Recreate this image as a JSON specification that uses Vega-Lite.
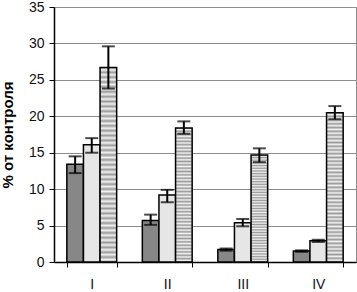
{
  "$schema": "https://vega.github.io/schema/vega-lite/v6.json",
  "width": 302,
  "height": 255,
  "autosize": "none",
  "padding": {"left": 54, "top": 7, "right": 1, "bottom": 30},
  "background": "white",
  "config": {
    "view": {"stroke": "#8c8c8c", "strokeWidth": 1},
    "font": "Liberation Sans",
    "axisY": {
      "title": "% от контроля", "titleFontSize": 15, "titleFontWeight": "bold", "titleColor": "#000",
      "titlePadding": 13, "labelFontSize": 14, "labelColor": "#111", "labelOverlap": false,
      "labelPadding": 5, "tickSize": 5, "tickColor": "#000", "domainColor": "#000", "domainWidth": 1.5,
      "grid": true, "gridColor": "#8c8c8c", "gridWidth": 1
    }
  },
  "data": {
    "values": [
      {"group": "I", "series": "a", "value": 13.4, "lo": 12.2, "hi": 14.5},
      {"group": "I", "series": "b", "value": 16.1, "lo": 15.0, "hi": 17.0},
      {"group": "I", "series": "c", "value": 26.7, "lo": 23.8, "hi": 29.6},
      {"group": "II", "series": "a", "value": 5.7, "lo": 5.1, "hi": 6.5},
      {"group": "II", "series": "b", "value": 9.2, "lo": 8.2, "hi": 9.9},
      {"group": "II", "series": "c", "value": 18.4, "lo": 17.6, "hi": 19.3},
      {"group": "III", "series": "a", "value": 1.7, "lo": 1.55, "hi": 1.85},
      {"group": "III", "series": "b", "value": 5.4, "lo": 4.9, "hi": 5.9},
      {"group": "III", "series": "c", "value": 14.7, "lo": 13.7, "hi": 15.6},
      {"group": "IV", "series": "a", "value": 1.5, "lo": 1.4, "hi": 1.6},
      {"group": "IV", "series": "b", "value": 2.9, "lo": 2.75, "hi": 3.05},
      {"group": "IV", "series": "c", "value": 20.5, "lo": 19.6, "hi": 21.4}
    ]
  },
  "encoding": {
    "x": {
      "field": "group", "type": "nominal", "sort": ["I", "II", "III", "IV"],
      "scale": {"paddingInner": 0.34, "paddingOuter": 0.17},
      "axis": {
        "title": null, "labelAngle": 0, "labelFontSize": 14, "labelColor": "#111",
        "labelPadding": 10, "tickBand": "extent", "tickSize": 5, "tickColor": "#000",
        "domainColor": "#000", "domainWidth": 1.5, "grid": false
      }
    },
    "xOffset": {"field": "series", "type": "nominal", "scale": {"domain": ["a", "b", "c"], "paddingInner": 0, "paddingOuter": 0}}
  },
  "layer": [
    {
      "transform": [{"filter": "datum.series === 'a'"}],
      "mark": {"type": "bar", "color": "#878787", "stroke": "#000", "strokeWidth": 1.5},
      "encoding": {
        "y": {
          "field": "value", "type": "quantitative",
          "scale": {"domain": [0, 35], "nice": false},
          "axis": {"title": "% от контроля", "values": [0, 5, 10, 15, 20, 25, 30, 35]}
        }
      }
    },
    {
      "transform": [{"filter": "datum.series === 'b'"}],
      "mark": {"type": "bar", "color": "#e6e6e6", "stroke": "#000", "strokeWidth": 1.5},
      "encoding": {"y": {"field": "value", "type": "quantitative", "axis": {"title": "% от контроля", "values": [0, 5, 10, 15, 20, 25, 30, 35]}}}
    },
    {
      "transform": [{"filter": "datum.series === 'c'"}],
      "mark": {
        "type": "bar", "stroke": "#000", "strokeWidth": 1.5,
        "color": {
          "gradient": "linear", "x1": 0, "y1": 0, "x2": 0, "y2": 1,
          "stops": [
            {"offset": 0, "color": "#9a9a9a"}, {"offset": 0.0125, "color": "#f2f2f2"},
            {"offset": 0.025, "color": "#9a9a9a"}, {"offset": 0.0375, "color": "#f2f2f2"},
            {"offset": 0.05, "color": "#9a9a9a"}, {"offset": 0.0625, "color": "#f2f2f2"},
            {"offset": 0.075, "color": "#9a9a9a"}, {"offset": 0.0875, "color": "#f2f2f2"},
            {"offset": 0.1, "color": "#9a9a9a"}, {"offset": 0.1125, "color": "#f2f2f2"},
            {"offset": 0.125, "color": "#9a9a9a"}, {"offset": 0.1375, "color": "#f2f2f2"},
            {"offset": 0.15, "color": "#9a9a9a"}, {"offset": 0.1625, "color": "#f2f2f2"},
            {"offset": 0.175, "color": "#9a9a9a"}, {"offset": 0.1875, "color": "#f2f2f2"},
            {"offset": 0.2, "color": "#9a9a9a"}, {"offset": 0.2125, "color": "#f2f2f2"},
            {"offset": 0.225, "color": "#9a9a9a"}, {"offset": 0.2375, "color": "#f2f2f2"},
            {"offset": 0.25, "color": "#9a9a9a"}, {"offset": 0.2625, "color": "#f2f2f2"},
            {"offset": 0.275, "color": "#9a9a9a"}, {"offset": 0.2875, "color": "#f2f2f2"},
            {"offset": 0.3, "color": "#9a9a9a"}, {"offset": 0.3125, "color": "#f2f2f2"},
            {"offset": 0.325, "color": "#9a9a9a"}, {"offset": 0.3375, "color": "#f2f2f2"},
            {"offset": 0.35, "color": "#9a9a9a"}, {"offset": 0.3625, "color": "#f2f2f2"},
            {"offset": 0.375, "color": "#9a9a9a"}, {"offset": 0.3875, "color": "#f2f2f2"},
            {"offset": 0.4, "color": "#9a9a9a"}, {"offset": 0.4125, "color": "#f2f2f2"},
            {"offset": 0.425, "color": "#9a9a9a"}, {"offset": 0.4375, "color": "#f2f2f2"},
            {"offset": 0.45, "color": "#9a9a9a"}, {"offset": 0.4625, "color": "#f2f2f2"},
            {"offset": 0.475, "color": "#9a9a9a"}, {"offset": 0.4875, "color": "#f2f2f2"},
            {"offset": 0.5, "color": "#9a9a9a"}, {"offset": 0.5125, "color": "#f2f2f2"},
            {"offset": 0.525, "color": "#9a9a9a"}, {"offset": 0.5375, "color": "#f2f2f2"},
            {"offset": 0.55, "color": "#9a9a9a"}, {"offset": 0.5625, "color": "#f2f2f2"},
            {"offset": 0.575, "color": "#9a9a9a"}, {"offset": 0.5875, "color": "#f2f2f2"},
            {"offset": 0.6, "color": "#9a9a9a"}, {"offset": 0.6125, "color": "#f2f2f2"},
            {"offset": 0.625, "color": "#9a9a9a"}, {"offset": 0.6375, "color": "#f2f2f2"},
            {"offset": 0.65, "color": "#9a9a9a"}, {"offset": 0.6625, "color": "#f2f2f2"},
            {"offset": 0.675, "color": "#9a9a9a"}, {"offset": 0.6875, "color": "#f2f2f2"},
            {"offset": 0.7, "color": "#9a9a9a"}, {"offset": 0.7125, "color": "#f2f2f2"},
            {"offset": 0.725, "color": "#9a9a9a"}, {"offset": 0.7375, "color": "#f2f2f2"},
            {"offset": 0.75, "color": "#9a9a9a"}, {"offset": 0.7625, "color": "#f2f2f2"},
            {"offset": 0.775, "color": "#9a9a9a"}, {"offset": 0.7875, "color": "#f2f2f2"},
            {"offset": 0.8, "color": "#9a9a9a"}, {"offset": 0.8125, "color": "#f2f2f2"},
            {"offset": 0.825, "color": "#9a9a9a"}, {"offset": 0.8375, "color": "#f2f2f2"},
            {"offset": 0.85, "color": "#9a9a9a"}, {"offset": 0.8625, "color": "#f2f2f2"},
            {"offset": 0.875, "color": "#9a9a9a"}, {"offset": 0.8875, "color": "#f2f2f2"},
            {"offset": 0.9, "color": "#9a9a9a"}, {"offset": 0.9125, "color": "#f2f2f2"},
            {"offset": 0.925, "color": "#9a9a9a"}, {"offset": 0.9375, "color": "#f2f2f2"},
            {"offset": 0.95, "color": "#9a9a9a"}, {"offset": 0.9625, "color": "#f2f2f2"},
            {"offset": 0.975, "color": "#9a9a9a"}, {"offset": 0.9875, "color": "#f2f2f2"},
            {"offset": 1, "color": "#9a9a9a"}
          ]
        }
      },
      "encoding": {"y": {"field": "value", "type": "quantitative", "axis": {"title": "% от контроля", "values": [0, 5, 10, 15, 20, 25, 30, 35]}}}
    },
    {
      "mark": {"type": "rule", "color": "#000", "strokeWidth": 2},
      "encoding": {
        "y": {"field": "lo", "type": "quantitative", "axis": {"title": "% от контроля", "values": [0, 5, 10, 15, 20, 25, 30, 35]}},
        "y2": {"field": "hi"}
      }
    },
    {
      "mark": {"type": "tick", "color": "#000", "thickness": 2, "size": 13},
      "encoding": {"y": {"field": "lo", "type": "quantitative", "axis": {"title": "% от контроля", "values": [0, 5, 10, 15, 20, 25, 30, 35]}}}
    },
    {
      "mark": {"type": "tick", "color": "#000", "thickness": 2, "size": 13},
      "encoding": {"y": {"field": "hi", "type": "quantitative", "axis": {"title": "% от контроля", "values": [0, 5, 10, 15, 20, 25, 30, 35]}}}
    }
  ]
}
